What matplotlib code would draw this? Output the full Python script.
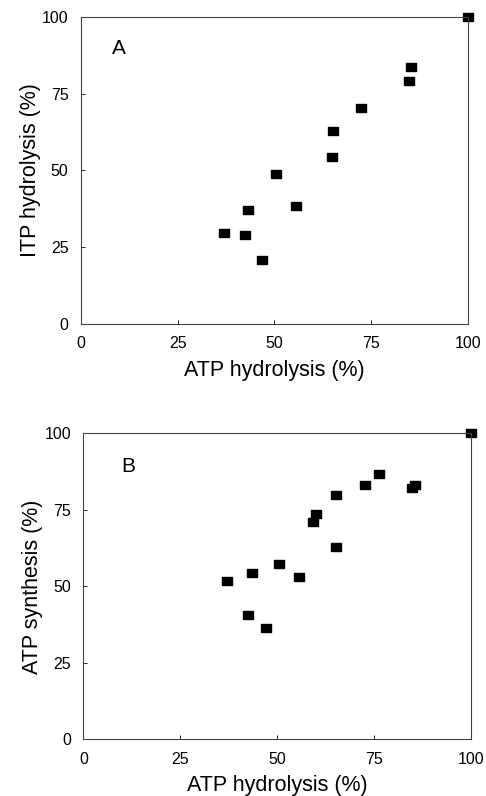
import matplotlib.pyplot as plt

# fonts: Arial-like
plt.rcParams['font.family'] = ['Liberation Sans', 'DejaVu Sans']

# Panel A: ATP hydrolysis vs ITP hydrolysis (%)
atp_a = [36.9, 42.4, 43.2, 46.9, 50.3, 55.6, 64.9, 65.2, 72.5, 84.8, 85.2, 100.0]
itp_a = [29.7, 29.0, 37.1, 20.8, 49.0, 38.5, 54.3, 62.8, 70.4, 79.1, 83.8, 100.0]

# Panel B: ATP hydrolysis vs ATP synthesis (%)
atp_b = [37.1, 43.4, 42.5, 47.0, 50.4, 55.6, 59.3, 60.0, 65.2, 65.3, 72.6, 76.4, 84.8, 85.5, 100.0]
syn_b = [51.9, 54.2, 40.7, 36.4, 57.2, 53.2, 70.9, 73.5, 62.9, 80.0, 83.2, 86.8, 82.1, 83.0, 100.0]

ticks = [0, 25, 50, 75, 100]

# wide rectangle marker
rect = [(-1.4, -1), (1.4, -1), (1.4, 1), (-1.4, 1), (-1.4, -1)]

fig = plt.figure(figsize=(4.86, 7.96), dpi=100)
ax_a = fig.add_axes([0.1667, 0.593, 0.796, 0.3857])
ax_b = fig.add_axes([0.1718, 0.0712, 0.797, 0.3844])

panels = [
    (ax_a, atp_a, itp_a, 'ITP hydrolysis (%)', 'A', (9.8, 89.6)),
    (ax_b, atp_b, syn_b, 'ATP synthesis (%)', 'B', (11.5, 89.1)),
]

for ax, x, y, ylab, letter, pos in panels:
    ax.plot(x, y, linestyle='none', marker=rect, markersize=7.4,
            color='black', clip_on=False)
    ax.set_xlim(0, 100)
    ax.set_ylim(0, 100)
    ax.set_xticks(ticks)
    ax.set_yticks(ticks)
    ax.tick_params(direction='in', length=3, width=0.6, labelsize=11.5)
    ax.tick_params(axis='x', pad=9)
    ax.tick_params(axis='y', pad=9)
    for s in ax.spines.values():
        s.set_linewidth(0.8)
        s.set_color('#444444')
    ax.set_xlabel('ATP hydrolysis (%)', fontsize=15.5, labelpad=6)
    ax.set_ylabel(ylab, fontsize=15.5, labelpad=1)
    ax.text(pos[0], pos[1], letter, fontsize=15, ha='center', va='center')

plt.savefig('out.png', dpi=100)
